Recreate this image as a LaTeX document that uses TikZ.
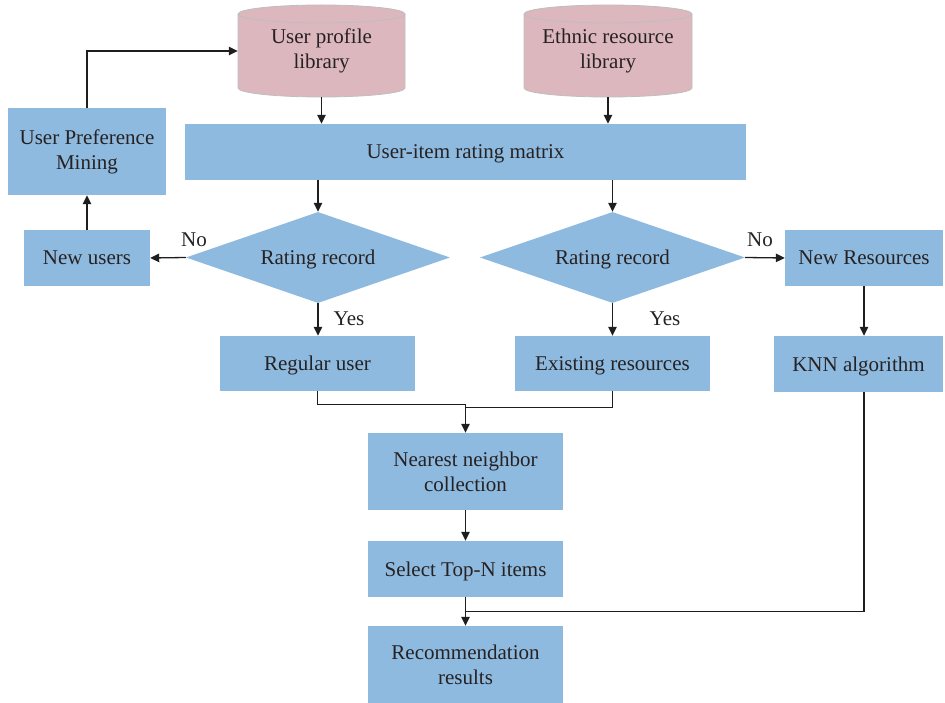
\documentclass[tikz,border=0pt]{standalone}
\usepackage{fontspec}
\setmainfont{Liberation Serif}
\usetikzlibrary{shapes.geometric,arrows.meta}
\definecolor{boxblue}{RGB}{142,186,223}
\definecolor{cylpink}{RGB}{220,184,190}
\definecolor{cylline}{RGB}{190,190,190}
\definecolor{txt}{RGB}{38,34,35}
\definecolor{lin}{RGB}{30,30,30}
\newcommand{\mycyl}[3]{%
  \fill[cylpink] (#1,-14) -- (#1,-88) arc[start angle=180,end angle=360,x radius=#3,y radius=9] -- (#2,-14) arc[start angle=0,end angle=180,x radius=#3,y radius=9] -- cycle;
  \draw[cylline,line width=0.8pt] (#1,-14) -- (#1,-88) arc[start angle=180,end angle=360,x radius=#3,y radius=9] -- (#2,-14) arc[start angle=0,end angle=180,x radius=#3,y radius=9] -- cycle;
  \draw[cylline,line width=0.8pt] (#1,-14) arc[start angle=180,end angle=360,x radius=#3,y radius=9];
}
\tikzset{
  x=1pt,y=1pt,
  every node/.style={text=txt,font=\fontsize{21}{25}\selectfont,align=center,inner sep=0pt},
  box/.style={fill=boxblue,rectangle},
  one/.style={text height=14pt,text depth=0pt},
  dec/.style={fill=boxblue,diamond,aspect=2.9},
  arr/.style={draw=lin,line width=1.3pt,-{Triangle[width=8.5pt,length=9pt]}},
  ln/.style={draw=lin,line width=1.3pt},
  lbl/.style={font=\fontsize{21}{25}\selectfont,text height=14pt,text depth=0pt}
}
\begin{document}
\begin{tikzpicture}
\useasboundingbox (0,0) rectangle (945,-703);
% cylinders
\mycyl{238}{405}{83.5}
\mycyl{524}{692}{84}
\node[minimum width=167pt,minimum height=92pt] (upl) at (321.5,-51) {User profile\\library};
\node[minimum width=168pt,minimum height=92pt] (erl) at (608,-51) {Ethnic resource\\library};
% boxes
\node[box,minimum width=158pt,minimum height=87pt] (upm) at (87,-151.5) {User Preference\\Mining};
\node[box,one,minimum width=561pt,minimum height=56pt] (matrix) at (465.5,-152) {User-item rating matrix};
\node[dec,one,minimum width=264pt,minimum height=91pt] (d1) at (318,-257.5) {Rating record};
\node[dec,one,minimum width=265pt,minimum height=91pt] (d2) at (612.5,-257.5) {Rating record};
\node[box,one,minimum width=126pt,minimum height=56pt] (newu) at (87,-258) {New users};
\node[box,one,minimum width=158pt,minimum height=56pt] (newr) at (864,-258) {New Resources};
\node[box,one,minimum width=195pt,minimum height=55pt] (reg) at (317.5,-363.5) {Regular user};
\node[box,one,minimum width=195pt,minimum height=55pt] (exi) at (612.5,-363.5) {Existing resources};
\node[box,one,minimum width=169pt,minimum height=56pt] (knn) at (858.5,-364) {KNN algorithm};
\node[box,minimum width=195pt,minimum height=77pt] (nnc) at (465.5,-471.5) {Nearest neighbor\\collection};
\node[box,one,minimum width=195pt,minimum height=56pt] (sel) at (465.5,-569) {Select Top-N items};
\node[box,minimum width=195pt,minimum height=77pt] (rec) at (465.5,-664.5) {Recommendation\\results};
% labels
\node[lbl] (no1) at (194,-240) {No};
\node[lbl] (no2) at (760,-240) {No};
\node[lbl] (yes1) at (349,-318) {Yes};
\node[lbl] (yes2) at (665,-318) {Yes};
% connectors
\draw[arr] (upm.north) |- (upl.west);
\draw[arr] (upl.south) -- (upl.south |- matrix.north);
\draw[arr] (erl.south) -- (erl.south |- matrix.north);
\draw[arr] (matrix.south -| d1.north) -- (d1.north);
\draw[arr] (matrix.south -| d2.north) -- (d2.north);
\draw[arr] (d1.west) -- (newu.east);
\draw[arr] (newu.north) -- (upm.south);
\draw[arr] (d2.east) -- (newr.west);
\draw[arr] (d1.south) -- (d1.south |- reg.north);
\draw[arr] (d2.south) -- (d2.south |- exi.north);
\draw[arr] (newr.south) -- (newr.south |- knn.north);
\draw[arr] (reg.south) |- ([yshift=28pt]nnc.north) -- (nnc.north);
\draw[ln] (exi.south) |- ([yshift=25pt]nnc.north);
\draw[arr] (nnc.south) -- (sel.north);
\draw[arr] (sel.south) -- (rec.north);
\draw[ln] ([xshift=5.5pt]knn.south) |- ([yshift=14pt]rec.north);
\end{tikzpicture}
\end{document}
